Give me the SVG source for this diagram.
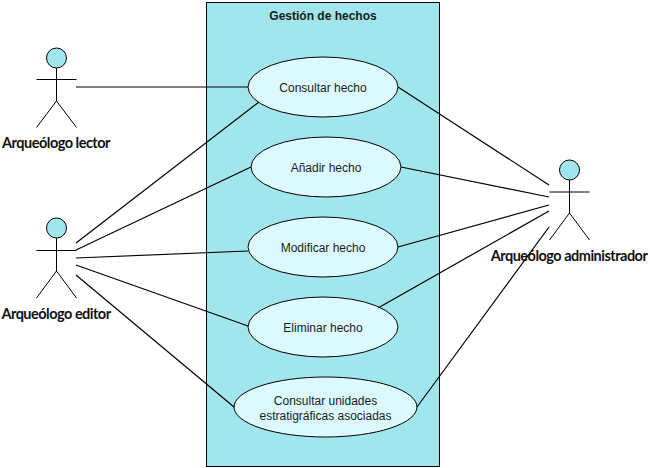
<svg xmlns="http://www.w3.org/2000/svg" width="650" height="468" viewBox="0 0 650 468">
<style>
.panel{fill:#a1e6ec;stroke:#000;stroke-width:1}
.uc{fill:#dcfafd;stroke:#000;stroke-width:1}
.head{fill:#a1e6ec;stroke:#000;stroke-width:1}
.limb{fill:none;stroke:#000;stroke-width:1}
.edge{stroke:#000;stroke-width:1.2;fill:none}
.t{font-family:"Liberation Sans",Arial,sans-serif;font-size:12px;fill:#1a1a1a;text-anchor:middle}
.title{font-weight:bold}
.actor{font-family:Lato,"Open Sans",sans-serif;font-weight:bold;font-size:14.500px;fill:#111;text-anchor:middle;letter-spacing:-0.5px}
</style>
<rect width="650" height="468" fill="#fff"/>
<g id="system"><rect class="panel" x="206.500" y="2.500" width="233" height="464"/><text class="t title" x="323" y="20">Gestión de hechos</text></g>
<g id="uc1"><ellipse class="uc" cx="323" cy="87" rx="75" ry="30"/><text class="t" x="323" y="92">Consultar hecho</text></g>
<g id="uc2"><ellipse class="uc" cx="326" cy="167" rx="75" ry="30"/><text class="t" x="326" y="172">Añadir hecho</text></g>
<g id="uc3"><ellipse class="uc" cx="323" cy="247" rx="75" ry="30"/><text class="t" x="323" y="252">Modificar hecho</text></g>
<g id="uc4"><ellipse class="uc" cx="323" cy="327" rx="75" ry="30"/><text class="t" x="323" y="332">Eliminar hecho</text></g>
<g id="uc5"><ellipse class="uc" cx="325.500" cy="407" rx="91.500" ry="30"/><text class="t" x="325.500" y="405">Consultar unidades</text><text class="t" x="325.500" y="420">estratigráficas asociadas</text></g>
<g id="actor-lector"><circle class="head" cx="56.500" cy="58" r="10"/><path class="limb" d="M56.500 68V101M36.500 79.500H76.500M36.500 127.500L56.500 101L76.500 127.500"/><text class="actor" x="56" y="148">Arqueólogo lector</text></g>
<g id="actor-editor"><circle class="head" cx="56.500" cy="228" r="10"/><path class="limb" d="M56.500 238V271M36.500 250.500H76.500M36.500 298L56.500 271L76.500 298"/><text class="actor" x="56" y="319">Arqueólogo editor</text></g>
<g id="actor-admin"><circle class="head" cx="569.500" cy="170" r="10"/><path class="limb" d="M569.500 180V213M549.500 192H589.500M549.500 240L569.500 213L589.500 240"/><text class="actor" x="569" y="261">Arqueólogo administrador</text></g>
<g id="connectors">
<path class="edge" d="M76 87H248"/>
<path class="edge" d="M76 243L259 102"/>
<path class="edge" d="M76 250L251 167"/>
<path class="edge" d="M76 258L248 251"/>
<path class="edge" d="M76 265L248 326"/>
<path class="edge" d="M76 275L234 407"/>
<path class="edge" d="M398 87L549 185"/>
<path class="edge" d="M401 167L549 197"/>
<path class="edge" d="M398 247L549 205"/>
<path class="edge" d="M378 308L549 211"/>
<path class="edge" d="M417 407L549 227"/>
</g>
</svg>
